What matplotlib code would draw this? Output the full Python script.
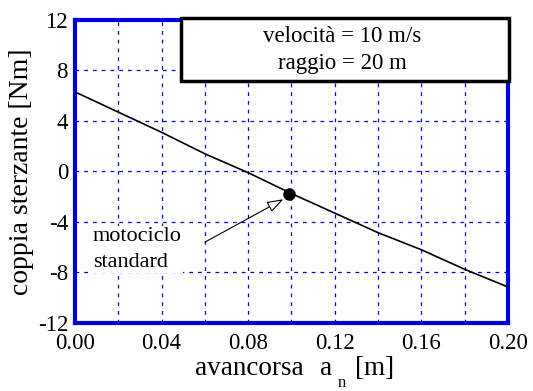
import numpy as np
import matplotlib
matplotlib.use('Agg')
import matplotlib.pyplot as plt

plt.rcParams['font.family'] = ['Liberation Serif', 'DejaVu Serif']

# dati
avancorsa = [0.00, 0.02, 0.04, 0.06, 0.08, 0.10, 0.12, 0.14, 0.16, 0.18, 0.20]
coppia = [6.3, 4.7, 3.1, 1.4, -0.1, -1.75, -3.3, -4.85, -6.2, -7.75, -9.15]
punto_std = (0.099, -1.75)
x_ticks = [0.00, 0.04, 0.08, 0.12, 0.16, 0.20]
y_ticks = [-12, -8, -4, 0, 4, 8, 12]

blu = '#0000dd'

fig = plt.figure(figsize=(5.33, 3.91), dpi=100)
ax = fig.add_axes([0.1407, 0.174, 0.8123, 0.775])

ax.plot(avancorsa, coppia, color='black', lw=1.2, zorder=3)
ax.plot(*punto_std, 'o', color='black', ms=8, zorder=4)

ax.set_xlim(0, 0.2)
ax.set_ylim(-12, 12)
ax.set_xticks(x_ticks)
ax.set_xticklabels(['%.2f' % v for v in x_ticks])
ax.set_xticks(np.arange(0.02, 0.2, 0.04), minor=True)
ax.set_yticks(y_ticks)
ax.set_yticklabels([str(v) for v in y_ticks])
ax.tick_params(which='both', length=0, labelsize=16.5, pad=5)
ax.tick_params(axis='x', which='both', pad=7)
ax.grid(True, which='both', color=blu, ls=(0, (3, 4)), lw=0.9)

for s in ax.spines.values():
    s.set_color(blu)
    s.set_linewidth(3)

ax.set_ylabel('coppia sterzante [Nm]', fontsize=20, labelpad=3)

# etichetta asse x con pedice
fig.text(195 / 533, 1 - 375 / 391, 'avancorsa', ha='left', va='baseline', fontsize=19.5)
fig.text(320 / 533, 1 - 375 / 391, 'a', ha='left', va='baseline', fontsize=19.5)
fig.text(355 / 533, 1 - 375 / 391, '[m]', ha='left', va='baseline', fontsize=19.5)
fig.text(338 / 533, 1 - 387 / 391, 'n', ha='left', va='baseline', fontsize=12)

# riquadro parametri
ax.text(0.617, 0.9, 'velocità = 10 m/s\nraggio = 20 m', transform=ax.transAxes,
        ha='center', va='center', fontsize=16.5, linespacing=1.4, zorder=10)
rect = plt.Rectangle((0.245, 0.8), 0.757, 0.205, transform=ax.transAxes,
                     fc='white', ec='black', lw=2.5, zorder=9, clip_on=False)
ax.add_patch(rect)

# motociclo standard
ax.text(0.0083, -6.2, 'motociclo\nstandard', fontsize=16, ha='left', va='center',
        linespacing=1.5, zorder=5,
        bbox=dict(boxstyle='square,pad=0.05', fc='white', ec='none'))
ax.annotate('', xy=(0.0962, -2.2), xytext=(0.06, -5.6),
            arrowprops=dict(arrowstyle='-|>,head_length=1.0,head_width=0.35',
                            fc='white', ec='black', lw=0.8,
                            shrinkA=0, shrinkB=0),
            zorder=5)

fig.savefig('out.png', dpi=100)
